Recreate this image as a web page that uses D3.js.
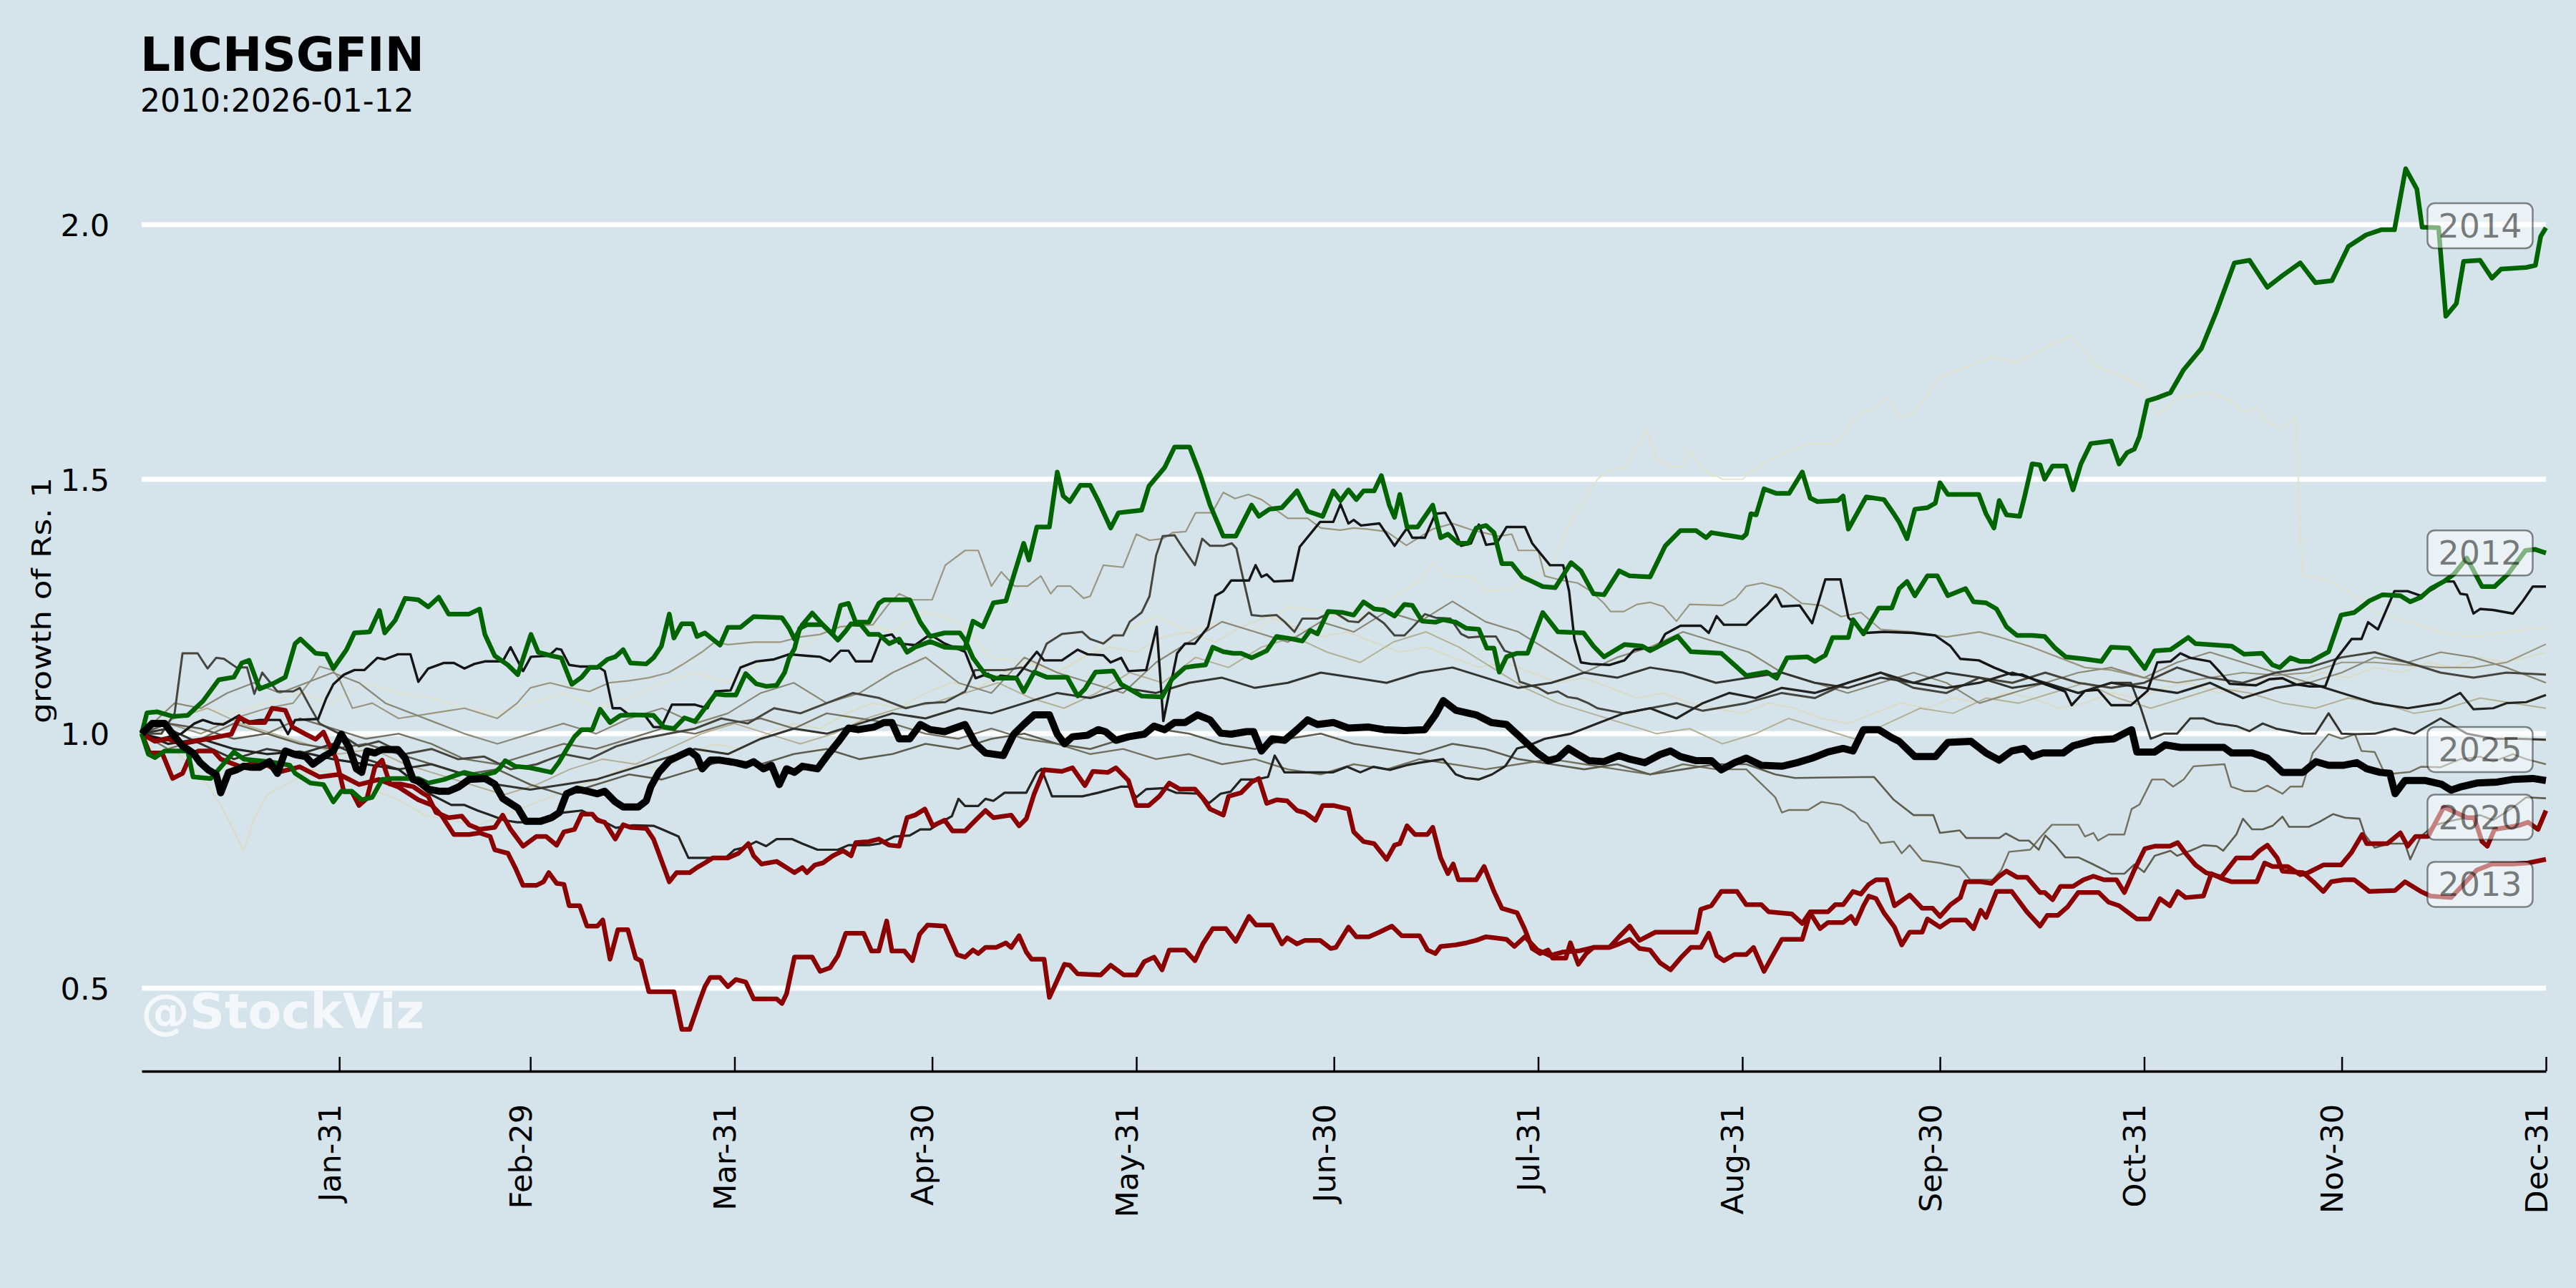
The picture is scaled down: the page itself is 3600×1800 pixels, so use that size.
<!DOCTYPE html>
<html><head><meta charset="utf-8">
<script src="https://cdn.jsdelivr.net/npm/d3@7"></script>
<style>
body{margin:0;background:#d5e4eb;}
svg{display:block;}
text{font-family:"DejaVu Sans",sans-serif;}
</style>
</head><body>
<svg id="chart" width="3600" height="1800"></svg>
<script>
// ---------------- DATA ----------------
const monthTickDays   = [31,60,91,121,152,182,213,244,274,305,335,366];
const monthTickLabels = ["Jan-31","Feb-29","Mar-31","Apr-30","May-31","Jun-30","Jul-31","Aug-31","Sep-30","Oct-31","Nov-30","Dec-31"];
const yTicks = [0.5,1.0,1.5,2.0];
const titleText = "LICHSGFIN";
const subtitleText = "2010:2026-01-12";
const yAxisTitle = "growth of Rs. 1";
const watermark = "@StockViz";

// [day of year, growth of Rs.1]
const s2014 = [[1,1.0],[2,0.96],[3,0.953],[4.5,0.966],[8,0.966],[8.8,0.915],[11.5,0.912],[15,0.964],[16.5,0.95],[20.4,0.945],[23.5,0.938],[24.3,0.922],[26.6,0.903],[28.6,0.9],[30.1,0.866],[31.3,0.887],[32.9,0.887],[34.4,0.87],[36,0.875],[37.5,0.91],[39,0.912],[43,0.912],[44.5,0.903],[46.9,0.91],[48.4,0.917],[50,0.924],[52.3,0.917],[54.6,0.924],[55.4,0.933],[56.2,0.947],[57.7,0.936],[60,0.933],[63.2,0.924],[64.3,0.943],[65.5,0.969],[66.7,0.994],[67.8,1.008],[69.4,1.008],[70.6,1.048],[72.1,1.022],[73.7,1.036],[75.6,1.037],[78.7,1.036],[80.3,1.013],[81.8,1.01],[83.4,1.031],[85,1.024],[86.5,1.05],[88.1,1.078],[89.6,1.076],[91.2,1.076],[92.7,1.118],[94.3,1.098],[95.8,1.093],[97.4,1.095],[98.6,1.12],[99.3,1.149],[100.1,1.167],[100.9,1.207],[102,1.214],[104.4,1.214],[105.5,1.2],[106.7,1.184],[107.9,1.202],[108.7,1.216],[110.2,1.214],[111.4,1.195],[112.9,1.195],[114.5,1.177],[116,1.186],[117.2,1.16],[118.4,1.17],[120.7,1.181],[122.9,1.17],[126,1.168],[127.2,1.221],[128.7,1.21],[130.3,1.257],[132.2,1.261],[134.9,1.374],[135.7,1.341],[136.9,1.406],[138.8,1.406],[140,1.514],[140.9,1.467],[141.9,1.456],[143.5,1.488],[145,1.488],[146.2,1.458],[148.1,1.404],[149.3,1.434],[152.8,1.439],[153.9,1.486],[156.3,1.523],[157.8,1.563],[160.1,1.563],[161.7,1.509],[163.2,1.449],[165.2,1.388],[167.1,1.388],[169.5,1.449],[170.6,1.427],[172.2,1.441],[174.1,1.444],[176.4,1.477],[178,1.437],[180.3,1.427],[181.9,1.477],[183,1.458],[184.2,1.479],[185.4,1.46],[186.5,1.477],[188.1,1.477],[189.2,1.507],[190.4,1.449],[191.2,1.425],[192,1.47],[193.1,1.406],[194.7,1.406],[197,1.449],[198.2,1.385],[199.3,1.392],[200.9,1.374],[202.4,1.374],[203.6,1.404],[205.1,1.409],[206.3,1.395],[207.5,1.334],[209,1.334],[210.6,1.308],[212.1,1.299],[213.7,1.289],[215.6,1.287],[218,1.336],[219.5,1.32],[221.4,1.275],[223,1.273],[225.3,1.32],[226.9,1.31],[230,1.308],[232.3,1.369],[234.6,1.399],[237,1.399],[238.5,1.385],[239.3,1.395],[244,1.385],[244.6,1.392],[245.3,1.432],[246.1,1.43],[247.3,1.481],[249.2,1.472],[251.1,1.472],[253.1,1.514],[254.3,1.463],[255.4,1.456],[258.5,1.458],[259.3,1.467],[260.1,1.402],[262.8,1.465],[265.5,1.46],[267.1,1.43],[267.8,1.416],[269,1.383],[270.2,1.441],[272.1,1.444],[273.3,1.453],[274,1.493],[275.2,1.47],[279.9,1.47],[281,1.432],[282.2,1.404],[283,1.458],[284.1,1.43],[286.1,1.427],[286.8,1.463],[288,1.53],[289.2,1.528],[289.9,1.5],[291.1,1.526],[293.1,1.526],[294.2,1.479],[295.4,1.53],[296.9,1.57],[300,1.575],[301.2,1.53],[302.4,1.552],[303.5,1.559],[304.3,1.584],[305.5,1.654],[307,1.66],[309,1.67],[311,1.715],[313.7,1.757],[316,1.83],[318.7,1.925],[321,1.93],[323.7,1.877],[326,1.9],[328.7,1.925],[331,1.886],[333.5,1.89],[336,1.957],[338.7,1.98],[341,1.99],[343,1.99],[344.7,2.11],[346.4,2.07],[347.2,1.995],[349.7,1.994],[350.8,1.82],[352.4,1.845],[353.5,1.928],[356,1.93],[357.8,1.895],[359.2,1.913],[363,1.916],[364.4,1.92],[365.2,1.977],[366,1.994]];

const s2012 = [[1,1.0],[1.8,1.041],[3.3,1.043],[5.7,1.034],[8,1.036],[10.3,1.064],[12.7,1.106],[15,1.111],[16.2,1.139],[17.3,1.144],[18.9,1.088],[21.2,1.1],[22.8,1.111],[24.3,1.177],[25.1,1.186],[27.4,1.158],[29,1.156],[30.1,1.128],[32.1,1.165],[33.3,1.198],[35.6,1.2],[37.1,1.242],[37.9,1.198],[39.5,1.223],[41,1.266],[43,1.263],[44.5,1.249],[46.1,1.268],[47.6,1.235],[50.7,1.235],[52.3,1.245],[53.1,1.195],[54.6,1.153],[56.6,1.135],[58.1,1.116],[60.1,1.195],[61.2,1.16],[63.2,1.153],[64.7,1.149],[66.3,1.097],[67.8,1.111],[69,1.13],[70.2,1.13],[71.7,1.146],[72.9,1.151],[74.1,1.165],[75.2,1.139],[77.6,1.137],[78.7,1.149],[79.9,1.172],[81.1,1.235],[81.8,1.188],[83,1.216],[84.6,1.216],[85.3,1.191],[86.5,1.198],[88.8,1.174],[90,1.209],[91.9,1.209],[93.9,1.23],[98.2,1.228],[99.3,1.207],[100.1,1.186],[101.3,1.214],[102.8,1.237],[104.4,1.214],[105.9,1.195],[107.1,1.252],[108.3,1.256],[109.4,1.219],[111.4,1.219],[112.9,1.256],[113.7,1.263],[117.6,1.263],[119.2,1.219],[120.7,1.191],[122.9,1.198],[125.2,1.198],[126,1.184],[127.2,1.149],[129.1,1.116],[130.7,1.109],[133.8,1.109],[134.9,1.083],[136.5,1.121],[138.4,1.111],[141.5,1.111],[143.1,1.074],[144.2,1.088],[145.8,1.121],[148.5,1.123],[149.7,1.097],[151.2,1.086],[152.8,1.074],[155.9,1.072],[157.4,1.107],[159.4,1.13],[160.9,1.133],[162.5,1.135],[163.6,1.17],[165.2,1.161],[166.7,1.158],[167.9,1.158],[169.5,1.149],[171.8,1.163],[173.3,1.191],[175.7,1.186],[177.2,1.182],[178.4,1.203],[179.5,1.196],[181.1,1.24],[183.4,1.238],[185,1.233],[186.5,1.259],[188.1,1.245],[189.6,1.243],[191.2,1.231],[192.7,1.254],[193.9,1.252],[195.4,1.221],[197.4,1.219],[198.6,1.224],[200.5,1.219],[202.1,1.207],[204,1.205],[205.2,1.168],[206.3,1.168],[207.1,1.121],[208.2,1.151],[209.8,1.158],[211.4,1.158],[213.7,1.238],[216,1.2],[219.9,1.198],[221.4,1.172],[223,1.151],[226.1,1.175],[228.8,1.172],[230,1.163],[234.2,1.191],[236.2,1.161],[240.8,1.158],[242.8,1.135],[244.6,1.114],[247.7,1.121],[249.2,1.109],[250.8,1.149],[253.9,1.151],[255,1.142],[256.6,1.154],[257.7,1.189],[260.1,1.189],[260.8,1.224],[262.4,1.196],[264.7,1.247],[266.7,1.247],[267.8,1.285],[269,1.299],[270.2,1.271],[272.1,1.31],[273.6,1.31],[275.2,1.271],[277.9,1.285],[279.1,1.259],[281,1.257],[282.6,1.245],[284.1,1.21],[285.7,1.193],[288,1.193],[289.9,1.191],[291.5,1.168],[293.1,1.151],[295.8,1.147],[298.5,1.142],[300,1.17],[302.7,1.168],[305.1,1.128],[306.6,1.163],[309,1.165],[311.7,1.189],[312.8,1.177],[318.3,1.172],[320.2,1.156],[322.9,1.158],[324.5,1.135],[325.6,1.13],[327.2,1.149],[328.7,1.142],[330.3,1.142],[333,1.161],[334.9,1.233],[336.9,1.238],[339.2,1.261],[341.2,1.273],[343.9,1.271],[345.4,1.259],[347,1.268],[348.5,1.285],[350.5,1.299],[352,1.313],[354,1.345],[356.3,1.289],[358.2,1.289],[360.2,1.313],[362.9,1.36],[364.4,1.362],[366,1.355]];

const s2013 = [[1,1.0],[3,0.985],[5,0.99],[7,0.98],[9,0.985],[11,0.99],[12.7,0.994],[14.6,0.999],[15.8,1.032],[17.3,1.022],[19.7,1.022],[20.8,1.05],[22.8,1.046],[23.9,1.013],[25.9,0.999],[27.4,0.989],[28.6,1.003],[29.4,0.98],[30.5,0.952],[31.7,0.886],[32.9,0.886],[34,0.859],[35.2,0.873],[36.4,0.934],[37.5,0.948],[38.7,0.901],[40.3,0.901],[42.2,0.896],[43.8,0.882],[44.5,0.877],[45.7,0.845],[47.6,0.835],[49.6,0.838],[50.7,0.821],[52.3,0.812],[54.6,0.816],[55.8,0.84],[57,0.812],[58.9,0.779],[60.9,0.798],[62.4,0.798],[64,0.781],[65.1,0.807],[66.7,0.812],[67.8,0.842],[69.4,0.842],[70.2,0.83],[71.3,0.826],[72.9,0.793],[74.1,0.821],[75.2,0.816],[77.6,0.814],[78.7,0.793],[79.5,0.765],[81.1,0.709],[82.2,0.727],[84.2,0.727],[85.3,0.737],[86.5,0.746],[87.7,0.756],[90,0.756],[91.6,0.765],[93.1,0.784],[93.9,0.76],[95.1,0.744],[97.4,0.749],[98.9,0.737],[100.1,0.727],[101.3,0.737],[102,0.727],[103.2,0.742],[104.4,0.746],[105.9,0.76],[107.5,0.77],[108.7,0.76],[109.4,0.786],[111.4,0.788],[112.9,0.793],[114.5,0.781],[116,0.779],[117.2,0.835],[118.4,0.84],[119.9,0.852],[121.1,0.819],[122.9,0.83],[124.1,0.809],[126,0.809],[127.6,0.83],[129.1,0.849],[130.3,0.835],[133,0.84],[134.2,0.819],[135.3,0.833],[136.5,0.882],[138,0.929],[140.7,0.926],[142.3,0.933],[144.2,0.898],[145.4,0.926],[147.7,0.924],[148.9,0.933],[150.8,0.908],[152,0.859],[153.9,0.859],[155.5,0.877],[157,0.903],[158.6,0.891],[160.9,0.891],[162.1,0.873],[163.2,0.852],[165.2,0.84],[166,0.877],[167.9,0.884],[169.5,0.905],[170.6,0.912],[171.8,0.863],[173.3,0.87],[174.9,0.868],[176.4,0.849],[177.6,0.845],[179.2,0.83],[180.3,0.859],[181.9,0.859],[184.2,0.852],[185,0.807],[186.5,0.788],[188.1,0.784],[190,0.753],[191.2,0.781],[192,0.784],[193.1,0.819],[194.3,0.802],[196.2,0.802],[197,0.816],[198.2,0.756],[199.3,0.725],[200.1,0.744],[200.9,0.713],[203.6,0.713],[204.8,0.739],[206.3,0.69],[207.5,0.657],[209.8,0.648],[211,0.615],[212.1,0.578],[213.3,0.568],[214.5,0.575],[215.2,0.559],[217.2,0.559],[217.9,0.589],[219.1,0.547],[220.3,0.568],[221.4,0.58],[223.8,0.58],[225.3,0.601],[226.9,0.622],[228.4,0.594],[230.8,0.61],[237,0.61],[237.7,0.655],[239.3,0.662],[240.8,0.69],[243.2,0.69],[244.6,0.664],[246.9,0.664],[248,0.65],[251.5,0.646],[253.1,0.627],[254.3,0.65],[257,0.65],[258.1,0.664],[259.3,0.664],[260.8,0.69],[262,0.685],[263.2,0.704],[264.3,0.713],[265.9,0.713],[267.1,0.662],[269.4,0.683],[271.3,0.657],[272.9,0.657],[274,0.641],[275.6,0.664],[277.1,0.678],[277.9,0.709],[280.2,0.709],[281.8,0.706],[283,0.72],[284.1,0.73],[285.7,0.718],[287.2,0.718],[289.2,0.688],[289.9,0.688],[291.1,0.674],[292.3,0.7],[294.2,0.7],[295.8,0.713],[297.3,0.72],[298.9,0.713],[300.8,0.713],[302,0.688],[303.5,0.732],[305.1,0.774],[306.6,0.779],[308.9,0.779],[310.1,0.786],[311.3,0.765],[312.8,0.742],[314.4,0.727],[316.7,0.718],[319,0.756],[321.4,0.756],[322.5,0.77],[323.7,0.781],[325.2,0.756],[326,0.73],[329.1,0.727],[330.7,0.709],[332.2,0.69],[333.4,0.709],[335.3,0.713],[336.9,0.713],[339.2,0.69],[343.1,0.692],[344.6,0.709],[347,0.69],[348.5,0.681],[351.6,0.678],[353.2,0.7],[355.5,0.732],[357.8,0.744],[360.9,0.744],[363.3,0.746],[366,0.753]];

const s2020 = [[1,1.0],[2.2,0.962],[4.1,0.962],[5.7,0.912],[7.2,0.922],[8.4,0.957],[9.6,0.966],[11.9,0.966],[13,0.95],[16,0.935],[19,0.945],[22,0.925],[25,0.935],[28,0.915],[31,0.92],[34,0.9],[37,0.91],[40,0.895],[43,0.87],[45,0.86],[46.5,0.84],[48.4,0.802],[50.7,0.802],[52.3,0.805],[53.9,0.798],[54.6,0.772],[56.6,0.765],[57.7,0.737],[58.9,0.702],[60.9,0.702],[62,0.709],[62.8,0.727],[64,0.706],[65.1,0.704],[65.9,0.662],[67.5,0.662],[68.6,0.622],[70.2,0.622],[71,0.634],[72.1,0.557],[73.3,0.615],[74.8,0.615],[76,0.559],[76.8,0.554],[78,0.493],[79.1,0.493],[81.8,0.493],[83,0.419],[84.2,0.419],[85.7,0.475],[86.5,0.503],[87.3,0.521],[88.8,0.521],[90,0.503],[91.2,0.517],[92.7,0.512],[93.9,0.479],[97.4,0.479],[98.2,0.47],[98.9,0.489],[100.1,0.561],[102.8,0.561],[104,0.533],[105.5,0.54],[106.7,0.564],[107.9,0.608],[110.6,0.608],[111.8,0.573],[112.9,0.573],[114.1,0.632],[114.9,0.573],[116.8,0.573],[118,0.554],[119.1,0.606],[120.3,0.624],[122.9,0.622],[124.8,0.566],[126,0.561],[127.2,0.575],[128,0.568],[129.1,0.58],[130.7,0.58],[132.2,0.589],[133,0.58],[134.2,0.603],[135.3,0.571],[136.1,0.557],[138,0.557],[138.8,0.482],[141.1,0.547],[141.9,0.545],[143.1,0.528],[146.6,0.526],[148.1,0.545],[150.1,0.526],[152,0.526],[153.2,0.552],[154.7,0.561],[155.9,0.536],[157,0.575],[159.4,0.575],[160.9,0.554],[162.1,0.587],[163.6,0.617],[165.6,0.617],[167.1,0.592],[169.1,0.641],[170.2,0.624],[172.6,0.624],[174.1,0.587],[174.9,0.599],[176.4,0.587],[177.6,0.594],[179.9,0.594],[181.5,0.578],[182.3,0.58],[184.2,0.62],[185.4,0.601],[187.3,0.601],[188.9,0.61],[190.8,0.622],[192.3,0.603],[195,0.603],[196.2,0.575],[197.4,0.568],[198.2,0.582],[200.5,0.585],[202.1,0.589],[203.6,0.594],[205.1,0.601],[206.3,0.599],[208.2,0.596],[209.4,0.582],[211,0.601],[212.9,0.575],[214.8,0.564],[216.8,0.571],[219.1,0.573],[221.4,0.58],[223.8,0.58],[225.3,0.587],[226.9,0.596],[228.4,0.578],[230,0.575],[231.5,0.55],[233.1,0.536],[234.6,0.559],[236.2,0.58],[237.7,0.58],[238.9,0.608],[240.1,0.564],[241.2,0.554],[242.8,0.566],[244.6,0.566],[245.7,0.58],[247.3,0.533],[248.4,0.559],[250,0.596],[253.1,0.596],[254.3,0.648],[255.8,0.617],[257,0.629],[259.3,0.629],[260.5,0.641],[261.2,0.627],[262.4,0.662],[263.2,0.681],[264.3,0.676],[265.5,0.648],[267.1,0.62],[268.2,0.585],[269.4,0.61],[271.3,0.61],[272.1,0.636],[274,0.62],[275.6,0.634],[277.9,0.634],[279.1,0.617],[280.2,0.653],[281,0.639],[282.6,0.69],[284.9,0.69],[287.2,0.65],[289.2,0.622],[290.3,0.643],[291.9,0.643],[293.4,0.66],[295,0.688],[298.1,0.688],[299.6,0.669],[301.2,0.662],[303.9,0.636],[305.8,0.636],[307.4,0.676],[308.9,0.662],[310.1,0.69],[311.3,0.678],[314,0.681],[315.2,0.725],[316.7,0.716],[318.3,0.709],[322.1,0.709],[323.3,0.746],[324.5,0.739],[326.8,0.739],[328.7,0.723],[329.9,0.727],[332.2,0.742],[334.9,0.742],[336.5,0.767],[338.1,0.802],[338.8,0.784],[341.9,0.784],[343.9,0.805],[345,0.779],[346.2,0.798],[348.1,0.798],[350.5,0.856],[354,0.835],[355.1,0.835],[356.3,0.788],[357.1,0.779],[358.2,0.812],[361.7,0.819],[363.3,0.826],[364.8,0.812],[366,0.849]];

const s2025 = [[1,1.0],[2.6,1.02],[4.5,1.02],[5.7,0.999],[7.2,0.976],[8.8,0.962],[9.9,0.943],[11.1,0.929],[12.3,0.92],[13,0.884],[14.2,0.924],[15.4,0.929],[16.5,0.936],[17.7,0.934],[18.9,0.934],[20.4,0.945],[21.6,0.922],[22.8,0.966],[24.3,0.959],[25.9,0.955],[27,0.94],[28.6,0.955],[30.1,0.966],[31.3,0.999],[32.5,0.973],[33.6,0.931],[34.4,0.924],[35.2,0.966],[36.4,0.962],[37.5,0.969],[39.9,0.969],[41,0.952],[42.2,0.91],[43.4,0.905],[44.5,0.891],[46.1,0.887],[47.6,0.887],[49.2,0.896],[50.7,0.91],[53.1,0.912],[54.6,0.901],[55.8,0.873],[57,0.863],[58.1,0.854],[59.3,0.828],[61.6,0.828],[63.2,0.835],[64.4,0.845],[65.5,0.882],[67.1,0.891],[68.6,0.887],[70.2,0.882],[71.3,0.887],[72.9,0.866],[74.1,0.856],[76.4,0.856],[77.6,0.868],[78.3,0.896],[79.5,0.924],[81.1,0.947],[83,0.959],[84.2,0.966],[85.3,0.955],[86.1,0.931],[87.3,0.948],[88.8,0.948],[91.2,0.943],[92.7,0.938],[93.9,0.945],[95.4,0.931],[96.6,0.938],[97.8,0.9],[98.9,0.931],[100.1,0.924],[101.3,0.936],[103.6,0.931],[105.2,0.959],[106.7,0.983],[108.3,1.011],[109.8,1.008],[112.2,1.013],[113.7,1.022],[114.9,1.022],[116,0.99],[117.6,0.99],[119.2,1.018],[120.7,1.008],[122.9,1.004],[126,1.018],[127.6,0.98],[129.1,0.962],[131.8,0.957],[133.4,0.999],[134.9,1.018],[136.5,1.037],[138.8,1.037],[140,0.999],[141.1,0.98],[142.3,0.994],[144.6,0.997],[146.2,1.008],[147.3,1.004],[148.9,0.987],[150.8,0.994],[153.2,0.999],[154.7,1.015],[156.3,1.008],[157.8,1.022],[159.4,1.022],[161.3,1.037],[163.2,1.027],[164.8,1.001],[166.4,0.999],[168.7,1.004],[169.8,1.004],[171,0.966],[172.6,0.99],[174.5,0.987],[176.4,1.008],[178,1.027],[179.5,1.018],[181.9,1.022],[184.2,1.011],[187.3,1.013],[189.6,1.008],[192.7,1.006],[195.8,1.008],[197.4,1.037],[198.6,1.065],[200.5,1.046],[203.6,1.037],[205.9,1.022],[208.2,1.018],[209.8,0.999],[211.4,0.98],[212.9,0.962],[214.5,0.947],[216,0.952],[217.6,0.971],[219.1,0.959],[220.7,0.947],[223,0.945],[225.3,0.957],[226.9,0.95],[229.2,0.943],[231.5,0.959],[233.1,0.966],[234.6,0.955],[237,0.947],[239.3,0.947],[240.8,0.929],[242.8,0.943],[244.6,0.952],[246.9,0.938],[250,0.936],[252.3,0.943],[254.6,0.952],[257,0.964],[259.3,0.971],[260.8,0.966],[262.4,1.008],[264.7,1.008],[266.7,0.992],[267.8,0.985],[270.2,0.955],[273.3,0.955],[275.2,0.983],[278.7,0.985],[281,0.962],[283,0.948],[284.9,0.966],[286.8,0.971],[288,0.955],[289.6,0.962],[292.7,0.962],[294.2,0.976],[297.3,0.987],[300.4,0.99],[303.1,1.008],[303.9,0.964],[306.6,0.964],[308.2,0.978],[310.5,0.973],[314.4,0.973],[317.1,0.973],[318.3,0.962],[321.4,0.962],[323.7,0.952],[326,0.924],[329.1,0.924],[331.1,0.945],[333,0.938],[335.3,0.938],[337.3,0.943],[338.8,0.931],[340.8,0.924],[342.3,0.922],[343.1,0.882],[344.6,0.908],[347.7,0.908],[350.1,0.901],[351.6,0.889],[353.2,0.896],[355.5,0.903],[358.6,0.905],[360.9,0.91],[364,0.912],[366,0.908]];

// background years (thin lines)
const s2024 = [[1,1.0],[4,0.99],[7,1.0],[9,1.02],[10.3,1.027],[11.9,1.02],[13.4,1.018],[15.8,1.036],[16.5,1.022],[18.9,1.027],[22,1.027],[23.2,0.999],[24.3,1.027],[27.8,1.029],[29,1.069],[30.1,1.097],[31.7,1.116],[33.3,1.125],[34.8,1.125],[36.8,1.149],[37.9,1.146],[39.9,1.156],[41.8,1.156],[43,1.102],[44.5,1.128],[46.9,1.139],[48.4,1.139],[50,1.128],[51.5,1.137],[53.1,1.142],[55.8,1.142],[57,1.17],[58.9,1.123],[60.1,1.151],[62.8,1.153],[64,1.167],[64.7,1.165],[65.9,1.135],[67.5,1.132],[70.2,1.132],[71.3,1.123],[72.5,1.05],[73.7,1.05],[74.8,1.039],[77.2,1.039],[78.7,1.013],[79.9,1.013],[81.5,1.057],[85,1.057],[86.9,1.05],[88.1,1.083],[90.4,1.085],[91.9,1.13],[94.3,1.142],[97,1.146],[99.3,1.156],[102,1.153],[104,1.151],[105.5,1.142],[107.1,1.163],[108.3,1.163],[109.4,1.142],[111.8,1.142],[113.3,1.191],[114.9,1.195],[116,1.177],[118.4,1.174],[120.7,1.195],[122.9,1.177],[126,1.161],[127.6,1.109],[129.5,1.118],[130.3,1.104],[131.4,1.114],[133.8,1.111],[136.9,1.161],[138,1.144],[140.7,1.144],[143.1,1.165],[144.6,1.156],[147,1.154],[148.1,1.14],[149.7,1.149],[150.8,1.123],[153.5,1.125],[155.1,1.21],[156.1,1.025],[158.2,1.158],[159.4,1.177],[160.9,1.177],[162.9,1.21],[164,1.271],[165.2,1.28],[166.4,1.301],[169.1,1.301],[170.1,1.331],[171,1.308],[171.8,1.313],[172.9,1.299],[175.7,1.301],[176.8,1.367],[179.9,1.416],[181.9,1.416],[183,1.451],[184.2,1.413],[185,1.42],[186.1,1.409],[188.9,1.413],[191.2,1.369],[193.1,1.404],[193.9,1.385],[195.8,1.385],[197.4,1.432],[198.9,1.434],[200.1,1.406],[201.3,1.369],[202.8,1.374],[204,1.411],[205.1,1.371],[206.7,1.374],[208.2,1.406],[211,1.406],[212.1,1.374],[214.8,1.331],[216.8,1.331],[217.7,1.28],[218.5,1.186],[219.5,1.14],[221,1.137],[223.8,1.135],[226.1,1.144],[227.6,1.165],[229.2,1.168],[231.1,1.168],[232.3,1.196],[234.6,1.212],[237.7,1.212],[238.9,1.198],[240.1,1.231],[241.2,1.214],[244.6,1.214],[246.5,1.238],[247.7,1.252],[249.1,1.273],[250,1.25],[252.7,1.252],[254.6,1.217],[256.6,1.303],[258.9,1.303],[260.1,1.228],[261.2,1.214],[262.8,1.198],[265.5,1.2],[269.8,1.198],[273.3,1.193],[275.6,1.172],[277.1,1.147],[279.9,1.144],[282.2,1.13],[284.9,1.116],[286.5,1.116],[290,1.097],[293,1.083],[294,1.056],[296,1.084],[298,1.086],[300,1.056],[303,1.056],[305.5,1.084],[307,1.14],[309,1.142],[310.5,1.158],[312,1.149],[315,1.142],[316.5,1.121],[318,1.098],[322,1.095],[324,1.107],[326,1.109],[328,1.097],[330,1.093],[332.5,1.093],[334,1.144],[336.5,1.186],[338,1.186],[339,1.219],[340.5,1.205],[343,1.28],[345,1.28],[347,1.271],[349,1.285],[350.5,1.299],[352,1.299],[353,1.275],[354,1.273],[355,1.236],[356,1.245],[358,1.243],[361,1.236],[362.5,1.261],[364,1.289],[366,1.289]];

const s2017 = [[1,1.0],[5,1.02],[10,1.0],[15,1.03],[20,1.05],[24,1.06],[27,1.11],[28,1.132],[30,1.125],[31,1.107],[33,1.05],[36,1.06],[40,1.03],[45,1.04],[50,1.05],[55,1.03],[58,1.06],[60,1.09],[63,1.1],[66,1.09],[69,1.083],[72,1.1],[75,1.104],[78,1.11],[81,1.12],[83,1.135],[86,1.16],[88,1.18],[90,1.175],[94,1.18],[98,1.18],[101,1.19],[104,1.195],[107,1.21],[112,1.214],[114.5,1.256],[116,1.275],[118,1.263],[121,1.263],[123,1.331],[126,1.36],[128,1.36],[130,1.29],[131.5,1.318],[133.5,1.29],[135.5,1.29],[137.5,1.31],[139,1.275],[140,1.29],[142,1.29],[144,1.266],[145,1.27],[147,1.331],[150,1.327],[152,1.392],[154,1.38],[156,1.383],[157.5,1.395],[159.5,1.397],[161,1.434],[163.5,1.434],[165.2,1.474],[167,1.462],[169,1.47],[171,1.46],[175,1.423],[178,1.423],[180,1.404],[183,1.4],[185,1.404],[187,1.402],[190,1.397],[193,1.37],[197,1.402],[200,1.413],[203,1.4],[207,1.388],[209,1.392],[210,1.36],[213,1.36],[214,1.31],[216,1.303],[219,1.296],[221,1.28],[223,1.256],[224,1.24],[226,1.24],[228,1.254],[230,1.258],[232,1.25],[234,1.221],[236,1.254],[241,1.252],[243,1.266],[244.6,1.29],[247,1.296],[250,1.285],[253,1.256],[256,1.252],[259,1.23],[262,1.238],[265,1.205],[270,1.2],[275,1.19],[280,1.2],[283,1.19],[288,1.17],[292,1.15],[296,1.13],[300,1.125],[305,1.11],[310,1.1],[315,1.11],[320,1.12],[325,1.115],[330,1.12],[335,1.14],[340,1.14],[345,1.135],[350,1.13],[355,1.13],[360,1.14],[366,1.176]];

const s2010 = [[1,1.0],[5,1.03],[10,1.05],[15,1.04],[20,1.06],[25,1.08],[30,1.06],[35,1.1],[40,1.08],[45,1.07],[50,1.05],[55,1.04],[60,1.06],[65,1.08],[70,1.05],[75,1.07],[80,1.1],[85,1.12],[90,1.1],[95,1.14],[100,1.16],[105,1.2],[110,1.22],[115,1.2],[120,1.24],[125,1.22],[130,1.15],[135,1.14],[140,1.12],[145,1.16],[150,1.2],[155,1.23],[160,1.2],[165,1.22],[170,1.2],[175,1.25],[180,1.24],[185,1.22],[190,1.26],[195,1.3],[197,1.336],[199,1.31],[203,1.31],[205,1.28],[209,1.285],[211,1.3],[215,1.33],[218,1.42],[220,1.458],[222,1.5],[224,1.519],[226,1.52],[228,1.56],[229.5,1.598],[231,1.54],[233,1.525],[235,1.525],[236,1.557],[238,1.52],[241,1.5],[244,1.5],[247,1.53],[250,1.55],[254,1.57],[258,1.57],[260,1.6],[262,1.63],[264,1.64],[266,1.66],[268,1.62],[270,1.63],[274,1.7],[278,1.72],[282,1.74],[286,1.73],[290,1.76],[294,1.78],[298,1.72],[302,1.7],[305,1.68],[307,1.625],[310,1.66],[315,1.67],[318,1.655],[320,1.63],[322,1.64],[324,1.61],[326,1.6],[328,1.622],[329,1.313],[330,1.31],[333,1.3],[336,1.28],[340,1.24],[345,1.22],[350,1.2],[355,1.19],[360,1.2],[366,1.21]];

const s2011 = [[1,1.0],[6,1.06],[10,1.05],[14,1.08],[18,1.1],[22,1.08],[26,1.1],[30,1.12],[34,1.1],[38,1.06],[42,1.04],[46,1.02],[50,1.0],[55,0.98],[60,1.0],[65,1.02],[70,1.0],[75,1.03],[80,1.05],[85,1.02],[90,1.04],[95,1.08],[100,1.1],[105,1.06],[110,1.08],[115,1.12],[120,1.15],[125,1.1],[130,1.08],[135,1.15],[140,1.12],[145,1.1],[150,1.08],[155,1.14],[160,1.18],[165,1.22],[170,1.2],[175,1.18],[180,1.22],[185,1.2],[190,1.24],[195,1.22],[200,1.26],[205,1.22],[210,1.2],[215,1.16],[220,1.12],[225,1.15],[230,1.17],[235,1.2],[240,1.18],[245,1.16],[250,1.12],[255,1.1],[260,1.08],[265,1.1],[270,1.12],[275,1.1],[280,1.06],[285,1.08],[290,1.1],[295,1.12],[300,1.13],[305,1.11],[310,1.14],[315,1.16],[320,1.14],[325,1.12],[330,1.1],[335,1.12],[340,1.15],[345,1.14],[350,1.16],[355,1.15],[360,1.13],[366,1.1]];

const s2022 = [[1,1.0],[4,1.0],[6,1.04],[7.2,1.158],[9.5,1.158],[11,1.128],[12.3,1.149],[13.5,1.147],[15.4,1.13],[17,1.13],[18.1,1.078],[19.3,1.12],[21.6,1.083],[24,1.083],[25,1.09],[26.6,1.052],[28,1.02],[31,1.0],[34,0.975],[37,0.985],[41,0.96],[45,0.97],[49,0.95],[53,0.955],[57,0.93],[61,0.94],[65,0.96],[69,0.95],[73,0.975],[77,0.99],[81,1.0],[85,1.01],[89,1.03],[93,1.02],[97,1.05],[101,1.04],[105,1.06],[109,1.08],[113,1.07],[117,1.05],[120,1.06],[123,1.062],[126,1.083],[127.5,1.125],[132,1.125],[134.5,1.13],[136.5,1.12],[138.4,1.177],[140.7,1.196],[143.8,1.2],[145,1.186],[147,1.177],[148.5,1.193],[150,1.193],[151,1.22],[152.8,1.238],[154,1.27],[155,1.35],[156,1.388],[157.8,1.39],[159,1.366],[160.9,1.331],[162,1.383],[163.2,1.369],[165.2,1.369],[166.5,1.374],[167.2,1.364],[168,1.317],[169.5,1.233],[171,1.231],[173.3,1.233],[174.5,1.22],[176,1.2],[177.2,1.226],[179.5,1.226],[181.9,1.24],[184.2,1.221],[185.7,1.219],[187.3,1.238],[189.6,1.217],[191.2,1.193],[192.7,1.193],[194,1.21],[195.8,1.235],[197.4,1.228],[199.7,1.226],[201.3,1.196],[202.4,1.189],[204.4,1.191],[206.6,1.191],[207.9,1.163],[209,1.158],[210.2,1.102],[211.4,1.097],[213,1.09],[214.5,1.079],[216,1.083],[217.5,1.072],[219,1.069],[220.6,1.06],[222,1.05],[226,1.04],[230,1.05],[234,1.06],[238,1.045],[244.6,1.06],[250,1.08],[255,1.07],[260,1.1],[265,1.12],[270,1.09],[275,1.08],[280,1.11],[285,1.1],[290,1.12],[295,1.1],[300,1.09],[305,1.1],[310,1.13],[315,1.11],[320,1.1],[325,1.12],[330,1.13],[335,1.15],[340,1.16],[345,1.14],[350,1.12],[355,1.11],[360,1.12],[366,1.116]];

const s2023 = [[1,1.0],[5,0.98],[10,0.99],[15,0.97],[20,0.96],[25,0.965],[30,0.95],[35,0.94],[40,0.93],[43,0.9],[45,0.88],[48,0.86],[50,0.86],[52,0.849],[54,0.84],[56,0.83],[58,0.826],[60,0.826],[62,0.835],[65,0.845],[67.8,0.849],[70,0.835],[73,0.815],[75.6,0.82],[78.7,0.819],[80,0.812],[82.5,0.798],[84,0.756],[86.5,0.756],[89.6,0.756],[91,0.772],[92.6,0.777],[94.3,0.788],[95.8,0.779],[97.4,0.793],[99.7,0.793],[101.3,0.784],[103.6,0.772],[106.7,0.772],[108.3,0.781],[111.4,0.781],[113,0.784],[115.3,0.798],[117.6,0.8],[119.2,0.812],[120.7,0.812],[122.9,0.83],[124,0.838],[125,0.872],[126,0.858],[128,0.858],[129.1,0.872],[130.3,0.868],[132,0.884],[135.3,0.884],[136.9,0.924],[137.6,0.931],[139.2,0.877],[143.8,0.877],[146.2,0.884],[149.7,0.896],[150.8,0.896],[152,0.875],[153.5,0.891],[156.3,0.893],[158,0.884],[161.7,0.882],[163,0.863],[164.8,0.882],[166.3,0.886],[167.9,0.91],[170.2,0.91],[172,0.915],[173,0.957],[174.5,0.924],[181.8,0.924],[184,0.935],[186,0.924],[188,0.935],[190.5,0.929],[193,0.938],[195,0.943],[198.6,0.95],[200.5,0.92],[202,0.913],[204,0.91],[206,0.92],[208,0.936],[209.8,0.971],[211.4,0.976],[214,0.99],[218,1.0],[222,1.02],[226,1.04],[230,1.05],[234,1.03],[238,1.06],[242,1.08],[246,1.07],[250,1.09],[255,1.08],[260,1.1],[265,1.12],[270,1.1],[275,1.09],[280,1.1],[285,1.12],[290,1.1],[295,1.08],[300,1.1],[305,1.09],[310,1.08],[315,1.1],[320,1.07],[325,1.09],[330,1.1],[335,1.08],[340,1.06],[345,1.05],[350,1.06],[353,1.08],[355,1.048],[358,1.05],[360,1.06],[363,1.062],[366,1.076]];

const s2021 = [[1,1.0],[5,1.01],[10,0.98],[15,0.95],[20,0.97],[25,0.96],[30,0.98],[35,0.95],[40,0.93],[45,0.94],[50,0.92],[55,0.9],[60,0.89],[65,0.9],[70,0.91],[75,0.93],[80,0.95],[85,0.97],[90,0.96],[95,0.99],[100,1.01],[105,1.0],[110,1.02],[115,1.04],[120,1.03],[125,1.05],[130,1.04],[135,1.06],[140,1.08],[145,1.07],[150,1.09],[155,1.08],[160,1.1],[165,1.11],[170,1.09],[175,1.1],[180,1.12],[185,1.11],[190,1.1],[195,1.12],[200,1.13],[205,1.11],[210,1.09],[215,1.1],[220,1.12],[225,1.11],[230,1.13],[235,1.12],[240,1.1],[245,1.11],[250,1.12],[255,1.1],[260,1.09],[265,1.11],[270,1.1],[275,1.12],[280,1.11],[285,1.09],[290,1.1],[295,1.08],[300,1.1],[303,1.1],[304.5,1.05],[306,0.99],[308,1.0],[310,1.0],[312,1.03],[314,1.03],[316,1.02],[319,1.015],[321,1.005],[323,1.02],[325,1.01],[327,1.005],[329,1.0],[331,1.0],[333,1.04],[335,1.0],[337,0.999],[340,1.0],[343,1.01],[346,1.0],[350,1.03],[354,1.0],[358,0.99],[362,0.99],[366,0.988]];

const s2019 = [[1,1.0],[5,1.02],[10,1.01],[15,0.99],[20,1.0],[25,0.98],[30,0.97],[35,0.98],[40,0.96],[45,0.94],[50,0.92],[55,0.93],[60,0.9],[65,0.88],[70,0.9],[75,0.92],[80,0.91],[85,0.93],[90,0.95],[95,0.94],[100,0.96],[105,0.97],[110,0.95],[115,0.96],[120,0.98],[125,0.97],[130,0.99],[135,1.0],[140,0.98],[145,0.97],[150,0.99],[155,1.01],[160,1.0],[165,0.98],[170,0.97],[175,0.99],[180,1.0],[185,0.98],[190,0.97],[195,0.96],[200,0.98],[205,0.97],[210,0.95],[215,0.94],[220,0.93],[225,0.94],[230,0.92],[235,0.93],[240,0.94],[244.6,0.94],[249,0.92],[252,0.913],[264,0.915],[267,0.87],[270,0.84],[273,0.84],[274,0.805],[277,0.81],[278,0.795],[283,0.795],[284,0.804],[286,0.79],[287.5,0.79],[289,0.772],[290,0.8],[291.5,0.781],[293,0.757],[295,0.757],[297,0.745],[299,0.732],[300,0.725],[302,0.725],[303.5,0.743],[305,0.728],[306.6,0.76],[309,0.77],[310,0.76],[312,0.77],[314,0.781],[316,0.779],[317,0.77],[319,0.802],[320,0.833],[321.4,0.812],[323,0.812],[324.5,0.819],[326,0.837],[327,0.817],[330,0.817],[331.5,0.826],[333.7,0.842],[335.5,0.835],[337.7,0.833],[338.5,0.802],[340,0.776],[342.2,0.784],[344.6,0.784],[345.4,0.753],[347,0.798],[349,0.82],[352,0.83],[356,0.84],[358,0.83],[361,0.855],[363,0.875],[366,0.873]];

const s2018 = [[1,1.0],[5,0.97],[10,0.99],[15,1.02],[20,1.0],[25,1.03],[30,1.01],[35,0.99],[40,1.0],[45,0.98],[50,0.95],[55,0.94],[60,0.96],[65,0.98],[70,0.97],[75,0.99],[80,1.01],[85,1.0],[90,1.02],[95,1.03],[100,1.01],[105,1.04],[110,1.03],[115,1.02],[120,1.0],[125,0.99],[130,1.01],[135,0.99],[140,0.98],[145,0.96],[150,0.97],[155,0.95],[160,0.96],[165,0.94],[170,0.95],[175,0.93],[180,0.92],[185,0.94],[190,0.93],[195,0.95],[200,0.94],[205,0.93],[210,0.94],[215,0.95],[220,0.94],[225,0.93],[230,0.92],[235,0.94],[240,0.93],[244.6,0.93],[247,0.9],[249,0.875],[250,0.845],[251,0.85],[254,0.85],[256,0.866],[259,0.86],[261,0.845],[262,0.83],[263,0.824],[265,0.785],[267,0.788],[268.2,0.765],[269.4,0.781],[271.3,0.751],[274,0.746],[277,0.738],[278.6,0.713],[282,0.713],[283.3,0.732],[284.5,0.768],[287.7,0.772],[289.5,0.8],[291,0.821],[295,0.821],[296,0.798],[297.3,0.805],[298,0.79],[299.6,0.802],[302,0.802],[303.1,0.852],[304.3,0.861],[306.2,0.91],[308,0.91],[309.4,0.896],[311,0.91],[312.5,0.936],[317.2,0.94],[318.2,0.896],[320.2,0.887],[322,0.887],[323.7,0.898],[326,0.882],[327.2,0.896],[329,0.896],[330.6,0.962],[333,0.999],[335,0.99],[337,0.999],[338,0.966],[340,0.964],[341.6,0.92],[345.4,0.925],[347,0.935],[350,0.934],[353,0.95],[356,0.955],[358,0.945],[361,0.96],[363,0.95],[366,0.94]];

const s2015 = [[1,1.0],[6,1.03],[11,1.05],[16,1.02],[21,1.0],[26,0.98],[31,0.96],[36,0.97],[41,0.94],[46,0.92],[51,0.9],[56,0.88],[61,0.9],[66,0.93],[71,0.95],[76,0.94],[81,0.97],[86,1.0],[91,1.02],[96,1.0],[101,0.98],[106,1.0],[111,1.03],[116,1.05],[121,1.06],[126,1.08],[131,1.1],[136,1.07],[141,1.05],[146,1.08],[151,1.12],[156,1.1],[161,1.15],[166,1.13],[171,1.17],[176,1.19],[181,1.16],[186,1.14],[191,1.18],[196,1.2],[201,1.17],[206,1.13],[211,1.09],[216,1.06],[221,1.04],[226,1.02],[231,1.0],[236,1.01],[241,0.98],[246,1.0],[251,1.03],[256,1.01],[261,0.99],[266,1.02],[271,1.05],[276,1.04],[281,1.07],[286,1.06],[291,1.08],[296,1.1],[301,1.07],[306,1.05],[311,1.07],[316,1.09],[321,1.08],[326,1.06],[331,1.05],[336,1.07],[341,1.06],[346,1.04],[351,1.05],[356,1.07],[361,1.06],[366,1.05]];

const s2016 = [[1,1.0],[5,0.98],[9,0.93],[11,0.9],[13,0.86],[15,0.81],[16.5,0.77],[18,0.83],[20,0.88],[23,0.9],[27,0.93],[31,0.92],[36,0.89],[40,0.87],[44,0.84],[48,0.83],[52,0.82],[56,0.84],[60,0.86],[64,0.88],[68,0.9],[72,0.92],[76,0.94],[80,0.93],[84,0.96],[88,0.98],[92,0.97],[96,1.0],[100,1.02],[104,1.01],[108,1.04],[112,1.06],[116,1.05],[120,1.08],[124,1.1],[128,1.09],[132,1.12],[136,1.14],[140,1.12],[144,1.15],[148,1.17],[152,1.16],[156,1.19],[160,1.2],[164,1.18],[168,1.21],[172,1.23],[176,1.21],[180,1.19],[184,1.2],[188,1.18],[192,1.16],[196,1.17],[200,1.15],[204,1.13],[208,1.14],[212,1.12],[216,1.1],[220,1.11],[224,1.09],[228,1.07],[232,1.08],[236,1.06],[240,1.05],[244,1.04],[248,1.06],[252,1.05],[256,1.03],[260,1.02],[264,1.04],[268,1.06],[272,1.05],[276,1.07],[280,1.06],[284,1.08],[288,1.07],[292,1.05],[296,1.06],[300,1.08],[304,1.07],[308,1.09],[312,1.1],[316,1.08],[320,1.09],[324,1.11],[328,1.1],[332,1.12],[336,1.11],[340,1.13],[344,1.12],[348,1.14],[352,1.13],[356,1.15],[360,1.14],[366,1.16]];

// series styling (drawing order: back to front)
const series = [
  {year:"2010", data:s2010, color:"#e3e1c9", width:1.8},
  {year:"2016", data:s2016, color:"#dcdac2", width:1.8},
  {year:"2015", data:s2015, color:"#b4b095", width:2.0},
  {year:"2017", data:s2017, color:"#9a9680", width:2.2},
  {year:"2011", data:s2011, color:"#8a8775", width:2.2},
  {year:"2018", data:s2018, color:"#74715e", width:2.4},
  {year:"2019", data:s2019, color:"#5e5c4d", width:2.6},
  {year:"2022", data:s2022, color:"#46453d", width:3.0},
  {year:"2021", data:s2021, color:"#34342f", width:3.0},
  {year:"2023", data:s2023, color:"#23231f", width:3.2},
  {year:"2024", data:s2024, color:"#151515", width:3.4},
  {year:"2013", data:s2013, color:"#8b0000", width:6.5},
  {year:"2020", data:s2020, color:"#8b0000", width:6.5},
  {year:"2012", data:s2012, color:"#006400", width:6.5},
  {year:"2014", data:s2014, color:"#006400", width:6.5},
  {year:"2025", data:s2025, color:"#000000", width:10}
];

const labelYears  = ["2014","2012","2025","2020","2013"];
const labelValues = [1.998, 1.355, 0.969, 0.836, 0.704];
const labelDay = 356;

// ---------------- DRAW ----------------
const svg = d3.select("#chart");
const x = d3.scaleLinear().domain([1,366]).range([198,3558]);
const y = d3.scaleLinear().domain([0.5,2.0]).range([1381,314]);

svg.append("rect").attr("width",3600).attr("height",1800).attr("fill","#d5e4eb");

// gridlines
svg.append("g").selectAll("line").data(yTicks).join("line")
  .attr("x1",x(1)).attr("x2",x(366))
  .attr("y1",d=>y(d)).attr("y2",d=>y(d))
  .attr("stroke","#ffffff").attr("stroke-width",7);

// y axis labels
const yAxis = svg.append("g").attr("transform","translate(153,0)")
  .call(d3.axisLeft(y).tickValues(yTicks).tickSize(0).tickPadding(0).tickFormat(d3.format(".1f")));
yAxis.select(".domain").remove();
yAxis.selectAll("text").attr("font-size",43).attr("fill","#000").attr("font-family","DejaVu Sans").attr("dy","0.36em");

// x axis
const xAxis = svg.append("g").attr("transform","translate(0,1497)")
  .call(d3.axisBottom(x).tickValues(monthTickDays).tickSize(-20).tickSizeOuter(0)
        .tickFormat((d,i)=>monthTickLabels[i]));
xAxis.select(".domain").attr("stroke","#000").attr("stroke-width",3.5);
xAxis.selectAll(".tick line").attr("stroke","#000").attr("stroke-width",2.5);
xAxis.selectAll(".tick text")
  .attr("transform","rotate(-90)")
  .attr("x",-46).attr("y",1).attr("dy","0")
  .attr("text-anchor","end")
  .attr("font-size",43).attr("fill","#000").attr("font-family","DejaVu Sans");

// watermark
svg.append("text").attr("x",197).attr("y",1437)
  .attr("font-size",68).attr("font-weight","bold")
  .attr("fill","#ffffff").attr("fill-opacity",0.75).text(watermark);

// lines
const line = d3.line().x(d=>x(d[0])).y(d=>y(d[1]));
svg.append("g").selectAll("path").data(series).join("path")
  .attr("d",d=>line(d.data))
  .attr("fill","none")
  .attr("stroke",d=>d.color)
  .attr("stroke-width",d=>d.width)
  .attr("stroke-linejoin","round")
  .attr("stroke-linecap","butt");

// labels
const lab = svg.append("g").selectAll("g").data(labelYears).join("g")
  .attr("transform",(d,i)=>`translate(${x(labelDay)},${y(labelValues[i])})`);
lab.append("rect").attr("x",-73.5).attr("y",-31.5).attr("width",147).attr("height",63)
  .attr("rx",10).attr("ry",10)
  .attr("fill","#ffffff").attr("fill-opacity",0.5)
  .attr("stroke","#000").attr("stroke-opacity",0.45).attr("stroke-width",2.5);
lab.append("text").attr("text-anchor","middle").attr("dy","0.36em")
  .attr("font-size",46).attr("fill","#000").attr("fill-opacity",0.5)
  .text(d=>d);

// titles
svg.append("text").attr("x",196).attr("y",99).attr("font-size",66).attr("font-weight","bold")
  .attr("fill","#000").text(titleText);
svg.append("text").attr("x",196).attr("y",156).attr("font-size",44)
  .attr("fill","#000").text(subtitleText);

// y axis title
svg.append("text").attr("transform","translate(71,839) rotate(-90)")
  .attr("text-anchor","middle").attr("font-size",38)
  .attr("textLength",344).attr("lengthAdjust","spacingAndGlyphs")
  .attr("fill","#000").text(yAxisTitle);
</script>
</body></html>
